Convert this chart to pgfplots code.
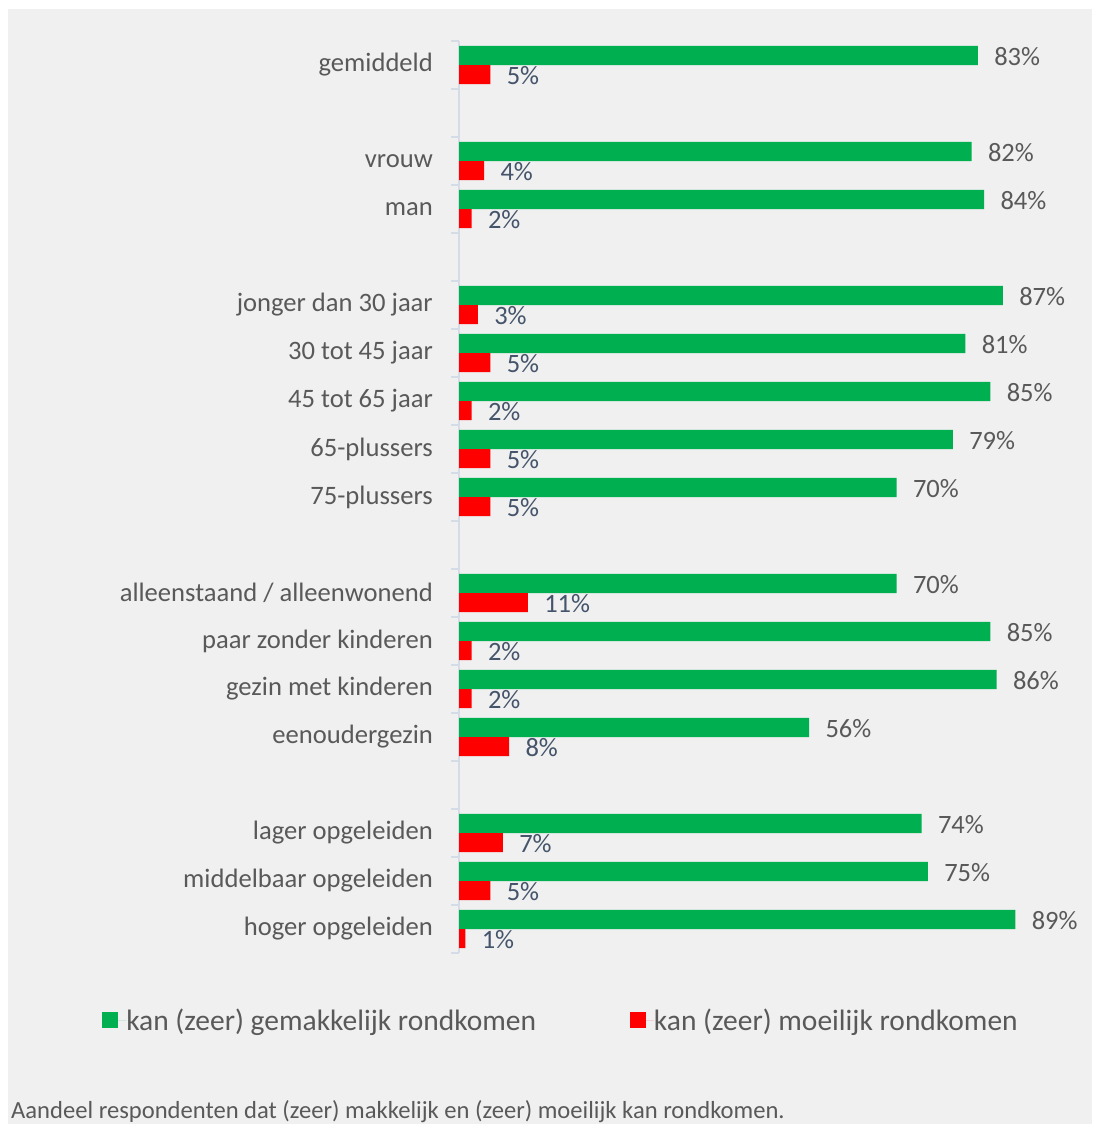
\documentclass[border=0pt]{standalone}
\usepackage{pgfplots}
\pgfplotsset{compat=1.18}
\usepackage{fontspec}
\setmainfont{Carlito}
\definecolor{bg}{HTML}{F0F0F0}
\definecolor{gr}{HTML}{00B050}
\definecolor{rd}{HTML}{FF0000}
\definecolor{txt}{HTML}{595959}
\definecolor{lab}{HTML}{44546A}
\definecolor{axc}{HTML}{D6DCE5}
\begin{document}
\begin{tikzpicture}[x=1pt,y=1pt]
\fill[white] (0,0) rectangle (1092,1124);
\fill[bg] (8,0) rectangle (1092,1115);
\begin{axis}[
  at={(459pt,171pt)}, anchor=south west,
  scale only axis, width=625pt, height=912pt,
  xmin=0, xmax=100, ymin=-0.5, ymax=18.5, y dir=reverse,
  axis x line=none, axis y line=left,
  axis line style={-, draw=axc, line width=1.2pt},
  xbar, bar width=0.4,
  ytick={0,2,3,5,6,7,8,9,11,12,13,14,16,17,18},
  yticklabels={gemiddeld,vrouw,man,jonger dan 30 jaar,30 tot 45 jaar,45 tot 65 jaar,65-plussers,75-plussers,alleenstaand / alleenwonend,paar zonder kinderen,gezin met kinderen,eenoudergezin,lager opgeleiden,middelbaar opgeleiden,hoger opgeleiden},
  major tick length=0pt,
  minor ytick={-0.5,0.5,...,18.5},
  minor tick length=8pt,
  tick align=outside,
  minor tick style={draw=axc, line width=1.2pt},
  yticklabel style={font=\fontsize{26.6}{30}\selectfont, text=txt, inner sep=0pt, xshift=-26pt},
  /pgf/number format/assume math mode=true,
  clip=false,
  legend columns=2,
  legend style={at={(axis description cs:0.1616,-0.0735)}, anchor=center, draw=none, fill=none,
    font=\fontsize{29.5}{33}\selectfont, text=txt, inner sep=0pt,
    /tikz/every even column/.append style={column sep=94pt},
    nodes={inner sep=0pt}},
  legend image code/.code={\fill[#1] (0pt,-8pt) rectangle (16pt,8pt); \path (0pt,0pt) -- (24pt,0pt);},
]
\addplot[fill=gr, draw=none, bar shift=-0.2,
  nodes near coords={\pgfmathprintnumber{\pgfplotspointmeta}\%},
  nodes near coords style={font=\fontsize{26.5}{30}\selectfont, text=txt, anchor=west, xshift=13pt, yshift=-1pt}]
  coordinates {(83,0) (82,2) (84,3) (87,5) (81,6) (85,7) (79,8) (70,9) (70,11) (85,12) (86,13) (56,14) (74,16) (75,17) (89,18)};
\addlegendentry{kan (zeer) gemakkelijk rondkomen}
\addplot[fill=rd, draw=none, bar shift=0.2,
  nodes near coords={\pgfmathprintnumber{\pgfplotspointmeta}\%},
  nodes near coords style={font=\fontsize{26.5}{30}\selectfont, text=lab, anchor=west, xshift=13pt, yshift=-1pt}]
  coordinates {(5,0) (4,2) (2,3) (3,5) (5,6) (2,7) (5,8) (5,9) (11,11) (2,12) (2,13) (8,14) (7,16) (5,17) (1,18)};
\addlegendentry{kan (zeer) moeilijk rondkomen}
\end{axis}
\node[anchor=west, inner sep=0pt, text=txt, font=\fontsize{24.6}{28}\selectfont] at (11,12) {Aandeel respondenten dat (zeer) makkelijk en (zeer) moeilijk kan rondkomen.};
\end{tikzpicture}
\end{document}
